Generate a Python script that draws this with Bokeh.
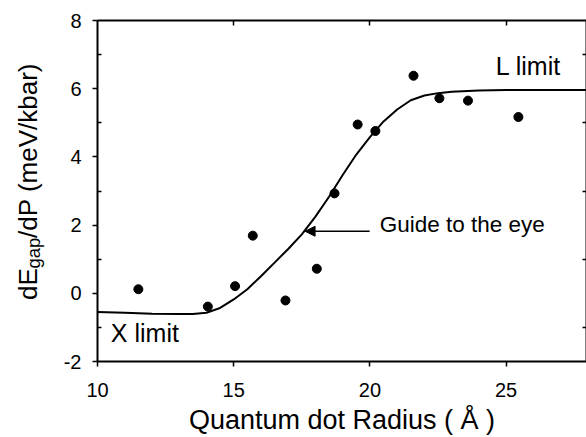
from bokeh.plotting import figure
from bokeh.layouts import row
from bokeh.models import (Range1d, LinearAxis, FixedTicker, Label, Arrow, NormalHead,
                          CustomJSTickFormatter)
from bokeh.embed import file_html
from bokeh.resources import INLINE

# ---- data ----
radius = [11.5, 14.05, 15.05, 15.7, 16.9, 18.05, 18.7, 19.55, 20.2, 21.6, 22.55, 23.6, 25.45]
dedp = [0.12, -0.39, 0.21, 1.69, -0.21, 0.72, 2.93, 4.95, 4.76, 6.38, 5.72, 5.65, 5.17]

guide_x = [10, 11, 12, 13, 13.5, 14, 14.5, 15, 15.5, 16, 16.5, 17, 17.5, 18, 18.5,
           19, 19.5, 20, 20.5, 21, 21.5, 22, 22.5, 23, 24, 25, 26, 28]
guide_y = [-0.55, -0.57, -0.60, -0.61, -0.61, -0.57, -0.43, -0.18, 0.12, 0.50, 0.90,
           1.30, 1.73, 2.25, 2.83, 3.47, 4.07, 4.58, 5.04, 5.39, 5.66, 5.80, 5.87,
           5.91, 5.95, 5.96, 5.96, 5.96]

x_major = [10, 15, 20, 25]
y_major = [-2, 0, 2, 4, 6, 8]
y_minor = [-1, 1, 3, 5, 7]

x_title = "Quantum dot Radius ( Å )"
y_title_parts = ["dE", "gap", "/dP (meV/kbar)"]

FONT = "Liberation Sans"
H = 437
YW = 60
TOP, BOTTOM = 20, 364   # frame edges in page pixels

# ---- main plot ----
p = figure(width=586 - YW, height=H, output_backend="svg", toolbar_location=None,
           x_range=Range1d(10, 27.95), y_range=Range1d(-2, 8),
           x_axis_location=None, y_axis_location=None,
           min_border_left=95 - YW, min_border_right=0, min_border_top=TOP,
           min_border_bottom=H - BOTTOM)
p.grid.visible = False
p.outline_line_color = None
p.background_fill_color = "white"
p.border_fill_color = "white"

def style(ax):
    ax.axis_line_width = 2
    ax.axis_line_color = "black"
    ax.major_tick_line_width = 1.5
    ax.minor_tick_line_width = 1.5
    ax.major_tick_line_color = "black"
    ax.minor_tick_line_color = "black"
    ax.major_label_text_font = FONT
    ax.major_label_text_font_size = "20px"
    ax.major_label_text_color = "black"

bottom = LinearAxis(ticker=FixedTicker(ticks=x_major))
style(bottom)
bottom.major_tick_out = 5
bottom.major_tick_in = 0
bottom.major_label_standoff = 16
bottom.axis_label = x_title
bottom.axis_label_text_font = FONT
bottom.axis_label_text_font_size = "27px"
bottom.axis_label_text_font_style = "normal"
bottom.axis_label_text_color = "black"
bottom.axis_label_standoff = 5
p.add_layout(bottom, "below")

left = LinearAxis(ticker=FixedTicker(ticks=y_major, minor_ticks=y_minor))
style(left)
left.major_tick_out = 5
left.major_tick_in = 0
left.minor_tick_in = 4
left.minor_tick_out = 0
left.major_label_standoff = 11
left.major_label_overrides = {-2: "-2"}
p.add_layout(left, "left")

blank = CustomJSTickFormatter(code="return ''")

top = LinearAxis(ticker=FixedTicker(ticks=x_major[1:]), formatter=blank)
style(top)
top.major_tick_in = 5
top.major_tick_out = 0
top.major_label_standoff = 0
p.add_layout(top, "above")

right = LinearAxis(ticker=FixedTicker(ticks=y_minor), formatter=blank)
style(right)
right.major_tick_in = 4
right.major_tick_out = 0
right.major_label_standoff = 0
p.add_layout(right, "right")

# guide curve and data points
p.line(guide_x, guide_y, line_color="black", line_width=2)
p.scatter(radius, dedp, size=9, color="black")

# annotations (bottom of text box given)
p.add_layout(Label(x=24.62, y=6.25, text="L limit", text_font=FONT, text_font_size="25px",
                   text_color="black"))
p.add_layout(Label(x=10.49, y=-1.58, text="X limit", text_font=FONT, text_font_size="25px",
                   text_color="black"))
p.add_layout(Label(x=20.36, y=1.66, text="Guide to the eye", text_font=FONT,
                   text_font_size="22.5px", text_color="black"))
p.add_layout(Arrow(x_start=19.99, y_start=1.82, x_end=17.62, y_end=1.82,
                   line_color="black", line_width=1.5,
                   end=NormalHead(size=10, fill_color="black", line_color="black")))

# ---- y title panel: its frame is aligned with the main frame (page y 20..364);
#      data y = H - page_y ----
yt = figure(width=YW, height=H, output_backend="svg", toolbar_location=None,
            x_range=Range1d(0, YW), y_range=Range1d(H - BOTTOM, H - TOP),
            x_axis_location=None, y_axis_location=None,
            min_border=0, min_border_left=0, min_border_right=0,
            min_border_top=0, min_border_bottom=0)
yt.grid.visible = False
yt.outline_line_color = None
yt.background_fill_color = "white"
yt.border_fill_color = "white"

yt.add_layout(Label(x=27, y=H - 302, text=y_title_parts[0], angle=90, angle_units="deg",
                    text_font=FONT, text_font_size="26px", text_align="left",
                    text_baseline="middle", text_color="black"))
yt.add_layout(Label(x=33, y=H - 270.2, text=y_title_parts[1], angle=90, angle_units="deg",
                    text_font=FONT, text_font_size="18.5px", text_align="left",
                    text_baseline="middle", text_color="black"))
yt.add_layout(Label(x=27, y=H - 239.3, text=y_title_parts[2], angle=90, angle_units="deg",
                    text_font=FONT, text_font_size="26px", text_align="left",
                    text_baseline="middle", text_color="black"))

layout = row(yt, p)
open("out.html", "w").write(file_html(layout, INLINE))
